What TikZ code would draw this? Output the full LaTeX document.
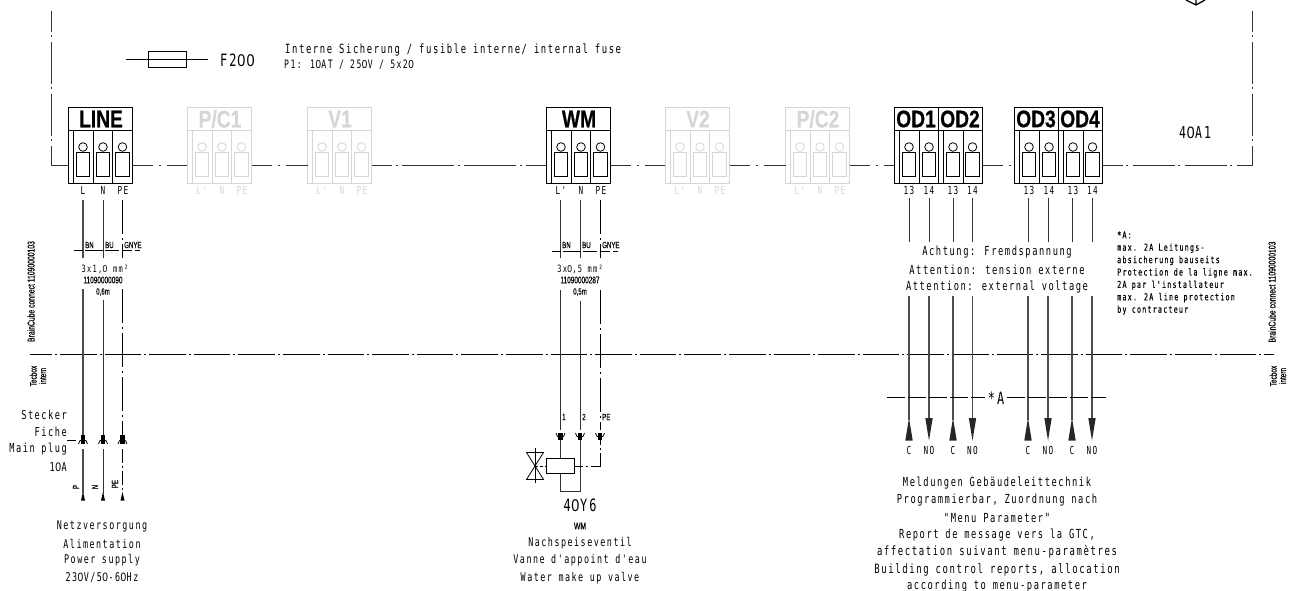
\documentclass[tikz,border=0pt]{standalone}
\usepackage{fontspec}
\setmainfont{Liberation Sans}
\newfontfamily\cadfont[FakeStretch=0.7,LetterSpace=12.5]{DejaVu Sans Mono}
\newfontfamily\notefont[FakeStretch=0.7,LetterSpace=12.5,FakeBold=0.2]{DejaVu Sans Mono}
\newfontfamily\zerofont[FakeStretch=0.85]{Liberation Sans}
\newcommand{\zr}{\setbox0\hbox{000}\setbox2\hbox{00}\dimen0=\wd0 \advance\dimen0 by -\wd2 \hbox to \dimen0{\hss{\zerofont 0}\hss}}
\newfontfamily\tightfont[FakeStretch=0.68,FakeBold=0.3]{Liberation Sans}
\newfontfamily\headfont[FakeStretch=0.8,FakeBold=0.6]{Liberation Sans Bold}
\usetikzlibrary{calc}
\definecolor{ghost}{gray}{0.84}
\tikzset{
  x=1pt,y=-1pt,
  frame/.style={line width=0.9pt,draw=black!80,dash pattern=on 20pt off 6pt on 2pt off 6pt on 21pt off 0pt},
  longframe/.style={line width=0.9pt,draw=black!80,dash pattern=on 42pt off 3pt on 2pt off 5pt,dash phase=21pt},
  sep/.style={line width=0.9pt,draw=black,dash pattern=on 36.6pt off 3pt on 2pt off 3pt,dash phase=14.6pt},
  pewire/.style={line width=0.9pt,draw=black,dash pattern=on 34pt off 4pt on 2pt off 4pt},
  wire/.style={line width=0.9pt,draw=black!80},
  dashcross/.style={line width=0.7pt,draw=black,dash pattern=on 12pt off 4pt},
  cad/.style={font=\cadfont\fontsize{#1}{#1}\selectfont,inner sep=0pt,text=black},
  cad/.default=12,
  tight/.style={font=\tightfont\fontsize{#1}{#1}\selectfont,inner sep=0pt,text=black},
  tight/.default=10,
  head/.style={font=\headfont\fontsize{24}{24}\selectfont,inner sep=0pt},
  box/.style={draw=#1,line width=0.9pt,minimum height=76pt,inner sep=0pt,anchor=north west},
  plugbody/.style={fill=black,draw=none,minimum width=4.3pt,minimum height=9pt,inner sep=0pt},
}
% pin: colour, x
\newcommand{\pinat}[2]{%
  \draw[#1,line width=0.8pt] (#2,147) circle (4.3);
  \draw[#1,line width=0.8pt] (#2-6.8,152) rectangle (#2+6.8,176);
}
% three pin terminal: name, left x, colour, label, l1
\newcommand{\termthree}[5]{%
  \node[box=#3,minimum width=64pt] (#1) at (#2,107) {};
  \draw[#3,line width=0.9pt] (#2,130) -- (#2+64,130);
  \foreach \vx in {5,25,44.5}{\draw[#3,line width=0.8pt] (#2+\vx,130) -- (#2+\vx,183);}
  \foreach \vx in {15,35,54.5}{\pinat{#3}{#2+\vx}}
  \node[head,text=#3] at (#2+33,119) {#4};
  \node[cad=11,text=#3] at (#2+15,190.5) {#5};
  \node[cad=11,text=#3] at (#2+35,190.5) {N};
  \node[cad=11,text=#3] at (#2+55,190.5) {PE};
}
% two-by-two contact terminal: name, left x, split x, l1, l2
\newcommand{\termfour}[5]{%
  \node[box=black,minimum width=#3pt] (#1) at (#2,107) {};
  \draw[line width=0.9pt] (#2,130) -- (#2+#3,130);
  \draw[line width=0.9pt] (#2+44,107) -- (#2+44,183);
  \foreach \vx in {5,25,49,69}{\draw[line width=0.8pt] (#2+\vx,130) -- (#2+\vx,183);}
  \foreach \vx in {15,35,59,78.5}{\pinat{black}{#2+\vx}}
  \node[head] at (#2+22,119) {#4};
  \node[head] at (#2+66,119) {#5};
  \node[cad=11] at (#2+15,190.5) {13};
  \node[cad=11] at (#2+35,190.5) {14};
  \node[cad=11] at (#2+59,190.5) {13};
  \node[cad=11] at (#2+78.5,190.5) {14};
}
\newcommand{\plugcup}[1]{%
  \node[plugbody] at (#1,439.5) {};
  \draw[line width=0.8pt] (#1-4.5,444) arc[start angle=180,end angle=360,radius=4.5];
}
\newcommand{\plugcap}[1]{%
  \node[plugbody,minimum height=7pt] at (#1,436) {};
  \draw[line width=0.8pt] (#1-4.5,433) arc[start angle=180,end angle=0,radius=4.5];
}
\begin{document}
\begin{tikzpicture}
\useasboundingbox (0,0) rectangle (1293,591);
% partial symbol at the top edge
\draw[line width=1.3pt] (1186,0) -- (1196,5) -- (1205,0) (1196,0) -- (1196,5);
% terminals
\termthree{line}{68}{black}{LINE}{L}
\termthree{pc}{187}{ghost}{P/C1}{L'}
\termthree{vone}{307}{ghost}{V1}{L'}
\termthree{wm}{546}{black}{WM}{L'}
\termthree{vtwo}{665}{ghost}{V2}{L'}
\termthree{pctwo}{785}{ghost}{P/C2}{L'}
\termfour{oda}{894}{88}{OD1}{OD2}
\termfour{odb}{1014}{88}{OD3}{OD4}
% frame
\coordinate (tl) at (51.5,11);
\coordinate (cl) at (51.5,165.5);
\coordinate (tr) at (1252,11);
\coordinate (cr) at (1252,165.5);
\draw[longframe] (tl) -- (cl) -- (line.west |- cl);
\draw[longframe] (tr) -- (cr);
\draw[longframe,dash phase=22pt] (odb.east |- cr) -- (cr);
\foreach \a/\b in {line/pc,pc/vone,wm/vtwo,vtwo/pctwo,pctwo/oda,oda/odb}{
  \draw[frame] (\a.east |- cl) -- (\b.west |- cl);
}
\draw[line width=0.9pt,draw=black!80,dash pattern=on 52pt off 4pt on 2pt off 4pt,dash phase=32pt] (vone.east |- cl) -- (wm.west |- cl);
% fuse
\coordinate (fa) at (126,59); \coordinate (fb) at (208,59);
\draw[line width=0.8pt] (fa) -- (fb);
\node[draw,line width=0.8pt,minimum width=38.5pt,minimum height=16pt,inner sep=0pt] (fuse) at (167.2,59) {};
\node[cad=17,anchor=west] (f200) at (220,60.5) {F2\zr\zr};
\node[cad=12.7,anchor=west] (fa1) at (285,50) {Interne Sicherung / fusible interne/ internal fuse};
\node[cad=11.6,anchor=west] (fa2) at (284,65) {P1: 1\zr AT / 25\zr V / 5x2\zr};
\node[cad=16.5,anchor=west] (asm) at (1179,133) {4\zr A1};
% separator
\coordinate (sa) at (30,354); \coordinate (sb) at (1274,354);
\draw[sep] (sa) -- (sb);
\node[tight=10,rotate=90] (bc1) at (31,291.5) {BrainCube connect 11090000103};
\node[tight=10,rotate=90] (bc2) at (1272,292) {BrainCube connect 11090000103};
\node[tight=9.5,rotate=90,align=center] (tb1) at (38,376) {Tecbox\\intern};
\node[tight=9.5,rotate=90,align=center] (tb2) at (1278,376) {Tecbox\\intern};
% LINE wires
\coordinate (l1) at (83,200);\coordinate (l2) at (83,258);\coordinate (l3) at (83,289);\coordinate (l4) at (83,435);
\coordinate (n1) at (103,200);\coordinate (n2) at (103,258);\coordinate (n3) at (103,300);\coordinate (n4) at (103,435);
\coordinate (p1) at (122.5,200);\coordinate (p2) at (122.5,258);\coordinate (p3) at (122.5,289);\coordinate (p4) at (122.5,435);
\draw[wire,black!70,line width=1.2pt] (l1)--(l2) (l3)--(l4);
\draw[wire] (n1)--(n2) (n3)--(n4);
\draw[pewire] (p1)--(p2);
\draw[pewire] (p3)--(p4);
\draw[dashcross,dash pattern=on 9pt off 2pt on 18pt off 2pt on 14pt off 4pt on 9pt off 3pt] (74,250.5) -- (140,250.5);
\node[tight=9,anchor=west] at (85,245) {BN};
\node[tight=9,anchor=west] at (105,245) {BU};
\node[tight=9,anchor=west] at (124,245) {GNYE};
\node[cad=10] at (105,269) {3x1,\zr{} mm²};
\node[tight=9.5] at (103,280) {11090000090};
\node[tight=9] at (103,292) {0,6m};
\foreach \px in {83,103,122.5}{
  \plugcup{\px}
  \fill (\px-2,500.5) -- (\px+2,500.5) -- (\px,492) -- cycle;
}
\draw[wire,black!70,line width=1.2pt] (83,449) -- (83,494);
\draw[wire] (103,449) -- (103,494);
\draw[line width=0.9pt,dash pattern=on 14pt off 3pt on 2pt off 3pt] (122.5,449) -- (122.5,494);
\node[tight=9,rotate=90] at (76,487) {P};
\node[tight=9,rotate=90] at (95,487) {N};
\node[tight=9,rotate=90] at (115,484) {PE};
\node[cad=12.3,anchor=east] at (67,415) {Stecker};
\node[cad=12.3,anchor=east] at (67,432) {Fiche};
\node[cad=12.3,anchor=east] at (67,449.5) {Main plug};
\node[cad=12.3,anchor=east] at (67,467) {1\zr A};
\draw[line width=0.7pt] (67,440) -- (76,440);
\node[cad] at (102,526) {Netzversorgung};
\node[cad] at (102,543.5) {Alimentation};
\node[cad] at (102,560.5) {Power supply};
\node[cad] at (102,578) {23\zr V/5\zr-6\zr Hz};
% WM wires
\draw[wire] (560.5,200) -- (560.5,258) (560.5,290) -- (560.5,430);
\draw[wire] (580,200) -- (580,258) (580,301) -- (580,430);
\draw[pewire] (600,200) -- (600,258);
\draw[pewire] (600,290) -- (600,430);
\draw[dashcross,dash pattern=on 9pt off 2pt on 18pt off 2pt on 14pt off 4pt on 9pt off 3pt] (552,251) -- (618,251);
\node[tight=9,anchor=west] at (562,245) {BN};
\node[tight=9,anchor=west] at (582,245) {BU};
\node[tight=9,anchor=west] at (602,245) {GNYE};
\node[cad=10] at (580,269) {3x\zr,5 mm²};
\node[tight=9.5] at (580,280) {11090000287};
\node[tight=9] at (580,292) {0,5m};
\foreach \px in {560.5,580,600}{\plugcap{\px}}
\node[tight=9,anchor=west] at (562,417) {1};
\node[tight=9,anchor=west] at (582,417) {2};
\node[tight=9,anchor=west] at (602,417) {PE};
% valve
\node[draw,line width=1pt,minimum width=28pt,minimum height=14.5pt,inner sep=0pt] (coil) at (560.5,466) {};
\draw[wire,line width=1pt] (560.5,440) -- (coil.north);
\draw[wire,line width=1pt] (coil.south) -- (560.5,491.5) -- (580,491.5) -- (580,440);
\draw[line width=0.9pt,dash pattern=on 8pt off 3pt on 2pt off 3pt on 14pt off 0pt] (coil.east) -- (600,466) -- (600,440);
\coordinate (vt) at (535,466);
\draw[line width=0.8pt] (526.5,452.5) -- (543.5,452.5) -- (526.5,479.5) -- (543.5,479.5) -- cycle;
\draw[line width=0.8pt] (535,448) -- (535,483);
\draw[line width=0.8pt,dash pattern=on 3pt off 2pt] (vt) -- (coil.west);
\node[cad=17] at (580,505) {4\zr Y6};
\node[tight=10] at (580,526) {WM};
\node[cad] at (580,543) {Nachspeiseventil};
\node[cad] at (580,560.5) {Vanne d'appoint d'eau};
\node[cad] at (580,578) {Water make up valve};
% OD wires
\foreach \px/\w in {909/C,929/NO,953/C,972.5/NO,1028/C,1048/NO,1072/C,1092/NO}{
  \draw[wire] (\px,198) -- (\px,242);
  \draw[wire,black!70,line width=1.2pt] (\px,296) -- (\px,420);
  \node[cad=11] at (\px,450) {\w};
}
\foreach \px in {909,953,1028,1072}{\fill[black!85] (\px-3.7,440.5) -- (\px+3.7,440.5) -- (\px,418) -- cycle;}
\foreach \px in {929,972.5,1048,1092}{\fill[black!85] (\px-3.7,418) -- (\px+3.7,418) -- (\px,440.5) -- cycle;}
\node[cad=12.5] at (997,252.5) {Achtung: Fremdspannung};
\node[cad=12.5] at (997,269.5) {Attention: tension externe};
\node[cad=12.5] at (997,287) {Attention: external voltage};
\coordinate (ca) at (887,397);\coordinate (cb) at (985,397);\coordinate (cc) at (1007,397);\coordinate (cd) at (1106,397);
\draw[line width=0.8pt,dash pattern=on 18pt off 3pt] (ca) -- (cb);
\draw[line width=0.8pt,dash pattern=on 18pt off 3pt] (cc) -- (cd);
\node[cad=17] at (996,398) {*A};
\node[font=\notefont\fontsize{9.6}{12.4}\selectfont,inner sep=0pt,anchor=north west,align=left] (note) at (1117,231) {*A:\\max. 2A Leitungs-\\absicherung bauseits\\Protection de la ligne max.\\2A par l'installateur\\max. 2A line protection\\by contracteur};
\node[cad=12.5] at (997,483) {Meldungen Gebäudeleittechnik};
\node[cad=12.5] at (997,500.5) {Programmierbar, Zuordnung nach};
\node[cad=12.5] at (997,518) {"Menu Parameter"};
\node[cad=12.5] at (997,535) {Report de message vers la GTC,};
\node[cad=12.8] at (997,552) {affectation suivant menu-paramètres};
\node[cad=12.8] at (997,569.5) {Building control reports, allocation};
\node[cad=12.5] at (997,586.5) {according to menu-parameter};
\end{tikzpicture}
\end{document}
